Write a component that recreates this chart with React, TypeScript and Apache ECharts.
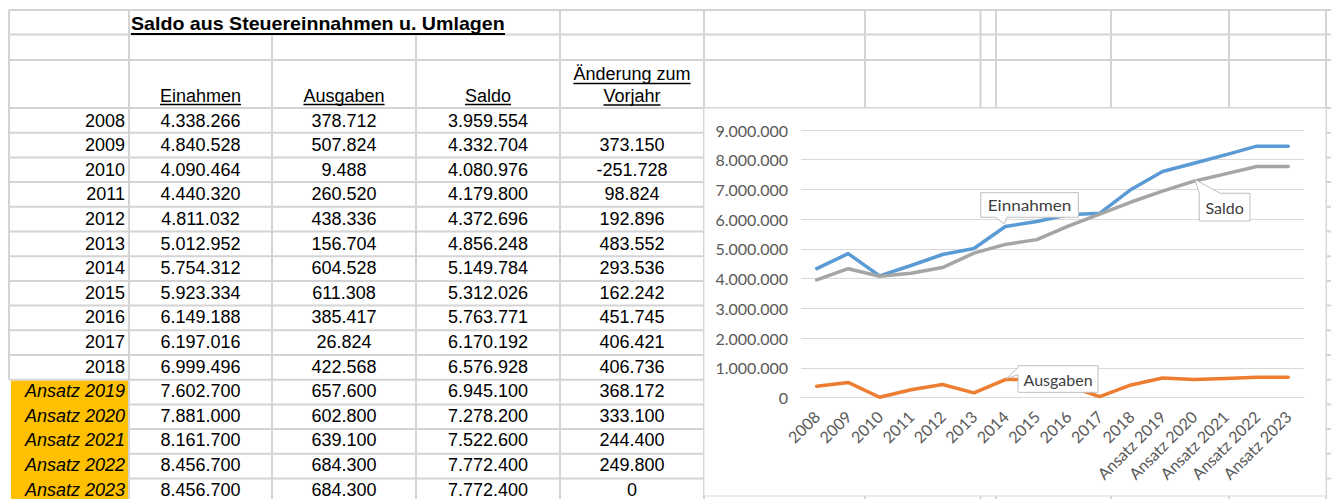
import React, { useEffect, useRef } from "react";
import * as echarts from "echarts";

// ---------- data ----------
const categories = [
  "2008", "2009", "2010", "2011", "2012", "2013", "2014", "2015", "2016", "2017", "2018",
  "Ansatz 2019", "Ansatz 2020", "Ansatz 2021", "Ansatz 2022", "Ansatz 2023",
];
const einnahmen = [
  4338266, 4840528, 4090464, 4440320, 4811032, 5012952, 5754312, 5923334, 6149188, 6197016,
  6999496, 7602700, 7881000, 8161700, 8456700, 8456700,
];
const ausgaben = [
  378712, 507824, 9488, 260520, 438336, 156704, 604528, 611308, 385417, 26824, 422568, 657600,
  602800, 639100, 684300, 684300,
];
const saldo = [
  3959554, 4332704, 4080976, 4179800, 4372696, 4856248, 5149784, 5312026, 5763771, 6170192,
  6576928, 6945100, 7278200, 7522600, 7772400, 7772400,
];
const aenderung: (number | null)[] = [
  null, 373150, -251728, 98824, 192896, 483552, 293536, 162242, 451745, 406421, 406736, 368172,
  333100, 244400, 249800, 0,
];
const tableTitle = "Saldo aus Steuereinnahmen u. Umlagen";
const headers = ["Einahmen", "Ausgaben", "Saldo"];
const changeHeader = ["Änderung zum", "Vorjahr"];
const seriesNames = ["Einnahmen", "Ausgaben", "Saldo"];
const seriesColors = ["#5B9BD5", "#ED7D31", "#A5A5A5"];
const calloutIndex = [6, 6, 12]; // category where each series' name label sits
const yMin = 0;
const yMax = 9000000;
const yStep = 1000000;

const fmtDE = (v: number) => {
  const s = Math.abs(Math.round(v)).toString().replace(/\B(?=(\d{3})+(?!\d))/g, ".");
  return v < 0 ? "-" + s : s;
};

// ---------- layout ----------
const W = 1331;
const H = 499;
const colX = [9, 129, 272, 416, 560, 704];
const extraColX = [865, 980.5, 996, 1111, 1229, 1326];
const rowTop = [10, 34.5, 60, 108];
const rowH = 24.7;
const GRID = "#d4d4d4";
const TFONT = '"Liberation Sans", Arial, sans-serif';
const CFONT = 'Lato, "Open Sans", sans-serif';

export default function App() {
  const ref = useRef<HTMLDivElement>(null);

  useEffect(() => {
    document.body.style.margin = "0";
    if (!ref.current) return;
    const chart = echarts.init(ref.current, undefined, { renderer: "svg" });

    const option: any = {
      animation: false,
      grid: { left: 801, right: 27, top: 130, bottom: 101.5, containLabel: false },
      xAxis: {
        type: "category",
        data: categories,
        boundaryGap: true,
        axisLine: { show: true, lineStyle: { color: "#d9d9d9", width: 1 } },
        axisTick: { show: false },
        axisLabel: {
          rotate: 45,
          interval: 0,
          margin: 16,
          color: "#595959",
          fontSize: 16,
          fontFamily: CFONT,
        },
      },
      yAxis: {
        type: "value",
        min: yMin,
        max: yMax,
        interval: yStep,
        axisLine: { show: false },
        axisTick: { show: false },
        splitLine: { lineStyle: { color: "#d9d9d9", width: 1 } },
        axisLabel: {
          formatter: (v: number) => fmtDE(v),
          color: "#595959",
          fontSize: 16,
          fontFamily: CFONT,
          margin: 13,
        },
      },
      series: [einnahmen, ausgaben, saldo].map((d, i) => ({
        type: "line",
        name: seriesNames[i],
        data: d,
        symbol: "none",
        showSymbol: false,
        lineStyle: { color: seriesColors[i], width: 3.5, cap: "round", join: "round" },
        itemStyle: { color: seriesColors[i] },
        z: 2 + i,
      })),
    };
    chart.setOption(option);

    // text measuring
    const ctx = document.createElement("canvas").getContext("2d")!;
    const measure = (t: string, font: string) => {
      ctx.font = font;
      return ctx.measureText(t).width;
    };

    const els: any[] = [];
    const line = (x1: number, y1: number, x2: number, y2: number, stroke = GRID, lw = 2, z = -9) =>
      els.push({ type: "line", silent: true, z, shape: { x1, y1, x2, y2 }, style: { stroke, lineWidth: lw } });
    const text = (t: string, x: number, y: number, align: string, extra: any = {}, z = -4, elExtra: any = {}) =>
      els.push({
        type: "text",
        silent: true,
        z,
        x,
        y,
        ...elExtra,
        style: {
          text: t,
          fontSize: 18,
          fontFamily: TFONT,
          fill: "#000",
          align,
          verticalAlign: "middle",
          ...extra,
        },
      });

    const nRows = categories.length;
    const dataTop = rowTop[3];
    const ansatzStart = categories.findIndex((c) => c.startsWith("Ansatz"));
    const ansatzY = dataTop + ansatzStart * rowH;

    // horizontal sheet lines
    rowTop.forEach((y) => line(9, y, W, y));
    for (let k = 1; k <= nRows; k++) {
      const y = dataTop + k * rowH;
      line(k > ansatzStart ? 129 : 9, y, W, y);
    }
    // vertical sheet lines
    line(9, rowTop[0], 9, ansatzY);
    line(129, rowTop[0], 129, H);
    line(272, rowTop[1], 272, H);
    line(416, rowTop[1], 416, H);
    line(560, rowTop[0], 560, H);
    line(704, rowTop[0], 704, H);
    extraColX.forEach((x) => line(x, rowTop[0], x, H));

    // orange "Ansatz" cells
    els.push({
      type: "rect",
      silent: true,
      z: -8,
      shape: { x: 11, y: ansatzY + 1, width: 117, height: H - ansatzY },
      style: { fill: "#FFC000" },
    });

    // chart box
    els.push({
      type: "rect",
      silent: true,
      z: -7,
      shape: { x: 704, y: 108, width: 622, height: 388 },
      style: { fill: "#fff", stroke: "#d9d9d9", lineWidth: 1 },
    });

    // title
    const titleFont = `bold 18px ${TFONT}`;
    const tw = measure(tableTitle, titleFont);
    const targetTW = 374;
    text(tableTitle, 131, 23.5, "left", { fontWeight: "bold" }, -4, { scaleX: targetTW / tw });
    line(131, 34, 131 + targetTW, 34, "#000", 2, -3);

    // headers
    const tf = `18px ${TFONT}`;
    const colCenter = (c: number) => (colX[c] + colX[c + 1]) / 2;
    headers.forEach((h, i) => {
      const cx = colCenter(i + 1);
      text(h, cx, 95.5, "center");
      const w = measure(h, tf);
      line(cx - w / 2, 104.5, cx + w / 2, 104.5, "#000", 1.5, -3);
    });
    changeHeader.forEach((h, i) => {
      const cx = colCenter(4);
      const y = i === 0 ? 74 : 95.5;
      text(h, cx, y, "center");
      const w = measure(h, tf);
      line(cx - w / 2, y + 9.5, cx + w / 2, y + 9.5, "#000", 1.5, -3);
    });

    // data rows
    categories.forEach((c, r) => {
      const y = dataTop + r * 24.6 + 12.6;
      const isA = c.startsWith("Ansatz");
      text(c, 125, y, "right", isA ? { fontStyle: "italic" } : {});
      text(fmtDE(einnahmen[r]), colCenter(1), y, "center");
      text(fmtDE(ausgaben[r]), colCenter(2), y, "center");
      text(fmtDE(saldo[r]), colCenter(3), y, "center");
      const a = aenderung[r];
      if (a !== null) text(fmtDE(a), colCenter(4), y, "center");
    });

    // callouts for series names, anchored on data points via the chart's scales
    const seriesData = [einnahmen, ausgaben, saldo];
    const anchors = seriesData.map((d, i) =>
      chart.convertToPixel({ seriesIndex: i }, [calloutIndex[i], d[calloutIndex[i]]]) as number[]
    );
    const callout = (pts: number[][], label: string, cx: number, cy: number, sx = 1) => {
      els.push({
        type: "polygon",
        silent: true,
        z: 100,
        shape: { points: pts },
        style: { fill: "#fff", stroke: "#bfbfbf", lineWidth: 1 },
      });
      els.push({
        type: "text",
        silent: true,
        z: 101,
        x: cx,
        y: cy,
        scaleX: sx,
        style: {
          text: label,
          fontSize: 16,
          fontFamily: CFONT,
          fill: "#404040",
          align: "center",
          verticalAlign: "middle",
        },
      });
    };
    {
      // Einnahmen: box above-right, tail down to point
      const [ax, ay] = anchors[0];
      const L = ax - 24.6, T = ay - 33.8, R = L + 97.6, B = T + 24.6;
      callout(
        [[L, T], [R, T], [R, B], [ax + 1.5, B], [ax - 1, ay - 2.5], [ax - 10, B], [L, B]],
        seriesNames[0],
        (L + R) / 2,
        (T + B) / 2,
        1.07
      );
    }
    {
      // Ausgaben: box to the right, tail to the left
      const [ax, ay] = anchors[1];
      const L = ax + 12.7, T = ay - 13.8, R = L + 80, B = T + 26.6;
      callout(
        [[L, T], [R, T], [R, B], [L, B], [L, T + 9], [ax + 1, ay - 1], [L, T + 2]],
        seriesNames[1],
        (L + R) / 2,
        (T + B) / 2
      );
    }
    {
      // Saldo: box below-right, tail up to point
      const [ax, ay] = anchors[2];
      const L = ax + 5.3, T = ay + 12.1, R = L + 50.7, B = T + 27.7;
      callout(
        [[L, T], [ax + 1, ay - 1.5], [L + 21, T], [R, T], [R, B], [L, B]],
        seriesNames[2],
        (L + R) / 2,
        (T + B) / 2
      );
    }

    chart.setOption({ graphic: { elements: els } });

    return () => chart.dispose();
  }, []);

  return <div ref={ref} style={{ width: W, height: H }} />;
}
